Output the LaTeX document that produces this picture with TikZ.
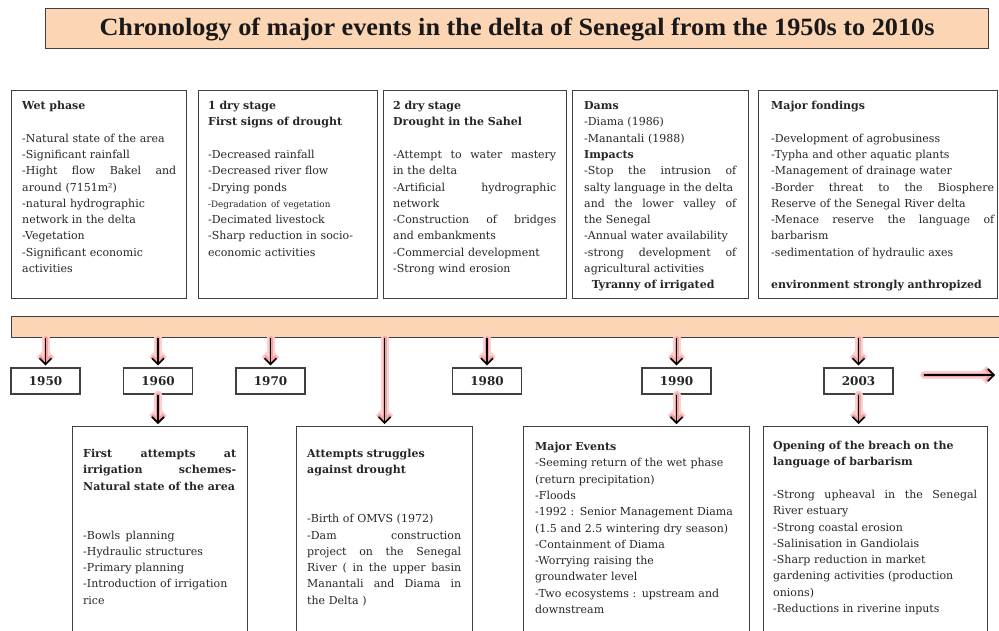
\documentclass[tikz,border=0pt]{standalone}
\usepackage{fontspec}
\setmainfont{DejaVu Serif}
\newfontfamily\titlefont{Liberation Serif}
\usetikzlibrary{arrows.meta}
\definecolor{peach}{HTML}{FCD5B4}
\definecolor{bord}{HTML}{404040}
\definecolor{glowA}{HTML}{FBD0D0}
\definecolor{glowB}{HTML}{F2A4A4}
\newcommand\J[2]{\makebox[#1][s]{\spaceskip=.3333em plus 1fil\relax #2}}
\newcommand\garrow[2]{%
  \draw[glowa] #1 -- #2;
  \draw[glowb] #1 -- #2;
  \draw[arr] #1 -- #2;}
\begin{document}
\begin{tikzpicture}[x=1pt,y=-1pt,
  box/.style={draw=bord, line width=1.1pt, fill=white, anchor=north west, inner sep=0pt},
  txt/.style={anchor=base west, inner sep=0pt, align=left, text width=300pt,
              font=\fontsize{11}{16.3}\selectfont, text=black!85},
  yearbox/.style={draw=bord, line width=1.1pt, fill=white, minimum width=69pt, minimum height=26pt,
              inner sep=0pt, font=\bfseries\fontsize{12}{13}\selectfont, text=black!85},
  glowa/.style={draw=glowA, line width=8pt, line cap=round, line join=round, shorten >=2pt,
              -{Straight Barb[length=6pt,width=12pt]}},
  glowb/.style={draw=glowB, line width=4pt, line cap=round, line join=round, shorten >=2pt,
              -{Straight Barb[length=6pt,width=12pt]}},
  arr/.style={draw=black, line width=1.6pt, shorten >=2pt,
              -{Straight Barb[length=6pt,width=12pt]}}]
\useasboundingbox (0,0) rectangle (999,630);
\clip (0,0) rectangle (999,630);
\fill[white] (0,0) rectangle (999,630);

% title
\node[draw=bord, fill=peach, line width=1.1pt, anchor=north west, minimum width=943pt,
      minimum height=40pt, inner sep=0pt] (title) at (45,8) {};
\node[inner sep=0pt, text=black!90] (titletext) at ([yshift=-1pt]title.center)
  {\resizebox{835pt}{17.5pt}{\titlefont\bfseries Chronology of major events in the delta of Senegal from the 1950s to 2010s}};

% top boxes
\node[box, minimum width=175pt, minimum height=208pt] (b1) at (11,90) {};
\node[box, minimum width=179pt, minimum height=208pt] (b2) at (198,90) {};
\node[box, minimum width=183pt, minimum height=208pt] (b3) at (383,90) {};
\node[box, minimum width=176pt, minimum height=208pt] (b4) at (572,90) {};
\node[box, minimum width=239pt, minimum height=208pt] (b5) at (758,90) {};

\node[txt] (t1) at (22,109.5) {\textbf{Wet phase}\\
\mbox{}\\
-Natural state of the area\\
-Significant rainfall\\
\J{154pt}{-Hight flow Bakel and}\\
around (7151m²)\\
-natural hydrographic\\
network in the delta\\
-Vegetation\\
-Significant economic\\
activities};

\node[txt] (t2) at (208,109.5) {\textbf{1 dry stage}\\
\textbf{First signs of drought}\\
\mbox{}\\
-Decreased rainfall\\
-Decreased river flow\\
-Drying ponds\\
{\fontsize{8.8}{16.3}\selectfont -Degradation\enspace of vegetation}\\
-Decimated livestock\\
-Sharp reduction in socio-\\
economic activities};

\node[txt] (t3) at (393,109.5) {\textbf{2 dry stage}\\
\textbf{Drought in the Sahel}\\
\mbox{}\\
\J{163pt}{-Attempt to water mastery}\\
in the delta\\
\J{163pt}{-Artificial hydrographic}\\
network\\
\J{163pt}{-Construction of bridges}\\
and embankments\\
-Commercial development\\
-Strong wind erosion};

\node[txt] (t4) at (584,109.5) {\textbf{Dams}\\
-Diama (1986)\\
-Manantali (1988)\\
\textbf{Impacts}\\
\J{152pt}{-Stop the intrusion of}\\
salty language in the delta\\
\J{152pt}{and the lower valley of}\\
the Senegal\\
-Annual water availability\\
\J{152pt}{-strong development of}\\
agricultural activities\\
\makebox[152pt]{\textbf{Tyranny of irrigated}\hspace{14pt}}};

\node[txt] (t5) at (771,109.5) {\textbf{Major fondings}\\
\mbox{}\\
-Development of agrobusiness\\
-Typha and other aquatic plants\\
-Management of drainage water\\
\J{223pt}{-Border threat to the Biosphere}\\
Reserve of the Senegal River delta\\
\J{223pt}{-Menace reserve the language of}\\
barbarism\\
-sedimentation of hydraulic axes\\
\mbox{}\\
\textbf{environment strongly anthropized}};

% timeline bar
\node[draw=bord, fill=peach, line width=1.1pt, anchor=north west, minimum width=1000pt,
      minimum height=21pt, inner sep=0pt] (bar) at (11,316) {};

% year boxes
\node[yearbox] (y50) at (45.5,381) {1950};
\node[yearbox] (y60) at (158,381) {1960};
\node[yearbox] (y70) at (270.5,381) {1970};
\node[yearbox] (y80) at (487,381) {1980};
\node[yearbox] (y90) at (676.5,381) {1990};
\node[yearbox] (y03) at (858.5,381) {2003};

% bottom boxes
\node[box, minimum width=175pt, minimum height=215pt] (ba) at (72,426) {};
\node[box, minimum width=176pt, minimum height=215pt] (bb) at (296,426) {};
\node[box, minimum width=226pt, minimum height=215pt] (bc) at (523,426) {};
\node[box, minimum width=224pt, minimum height=215pt] (bd) at (763,426) {};

\node[txt] (ta) at (83,457.5) {\J{153pt}{\textbf{First attempts at}}\\
\J{153pt}{\textbf{irrigation schemes-}}\\
\textbf{Natural state of the area}\\
\mbox{}\\
\mbox{}\\
-Bowls\enspace planning\\
-Hydraulic structures\\
-Primary planning\\
-Introduction of irrigation\\
rice};

\node[txt] (tb) at (307,457.5) {\textbf{Attempts struggles}\\
\textbf{against drought}\\
\mbox{}\\
\mbox{}\\
-Birth of OMVS (1972)\\
\J{154pt}{-Dam construction}\\
\J{154pt}{project on the Senegal}\\
\J{154pt}{River ( in the upper basin}\\
\J{154pt}{Manantali and Diama in}\\
the Delta )};

\node[txt] (tc) at (535,450.5) {\textbf{Major Events}\\
-Seeming return of the wet phase\\
(return precipitation)\\
-Floods\\
-1992 : Senior Management Diama\\
(1.5 and 2.5 wintering dry season)\\
-Containment of Diama\\
-Worrying raising the\\
groundwater level\\
-Two ecosystems : upstream and\\
downstream};

\node[txt] (td) at (773,449.5) {\textbf{Opening of the breach on the}\\
\textbf{language of barbarism}\\
\mbox{}\\
\J{204pt}{-Strong upheaval in the Senegal}\\
River estuary\\
-Strong coastal erosion\\
-Salinisation in Gandiolais\\
-Sharp reduction in market\\
gardening activities (production\\
onions)\\
-Reductions in riverine inputs};

% arrows
\garrow{(bar.south -| y50.north)}{(y50.north)}
\garrow{(bar.south -| y60.north)}{(y60.north)}
\garrow{(bar.south -| y70.north)}{(y70.north)}
\garrow{(bar.south -| bb.north)}{(bb.north)}
\garrow{(bar.south -| y80.north)}{(y80.north)}
\garrow{(bar.south -| y90.north)}{(y90.north)}
\garrow{(bar.south -| y03.north)}{(y03.north)}
\garrow{(y60.south)}{(y60.south |- ba.north)}
\garrow{(y90.south)}{(y90.south |- bc.north)}
\garrow{(y03.south)}{(y03.south |- bd.north)}
\coordinate (ra1) at (924,375);
\coordinate (ra2) at (997,375);
\garrow{(ra1)}{(ra2)}
\end{tikzpicture}
\end{document}
